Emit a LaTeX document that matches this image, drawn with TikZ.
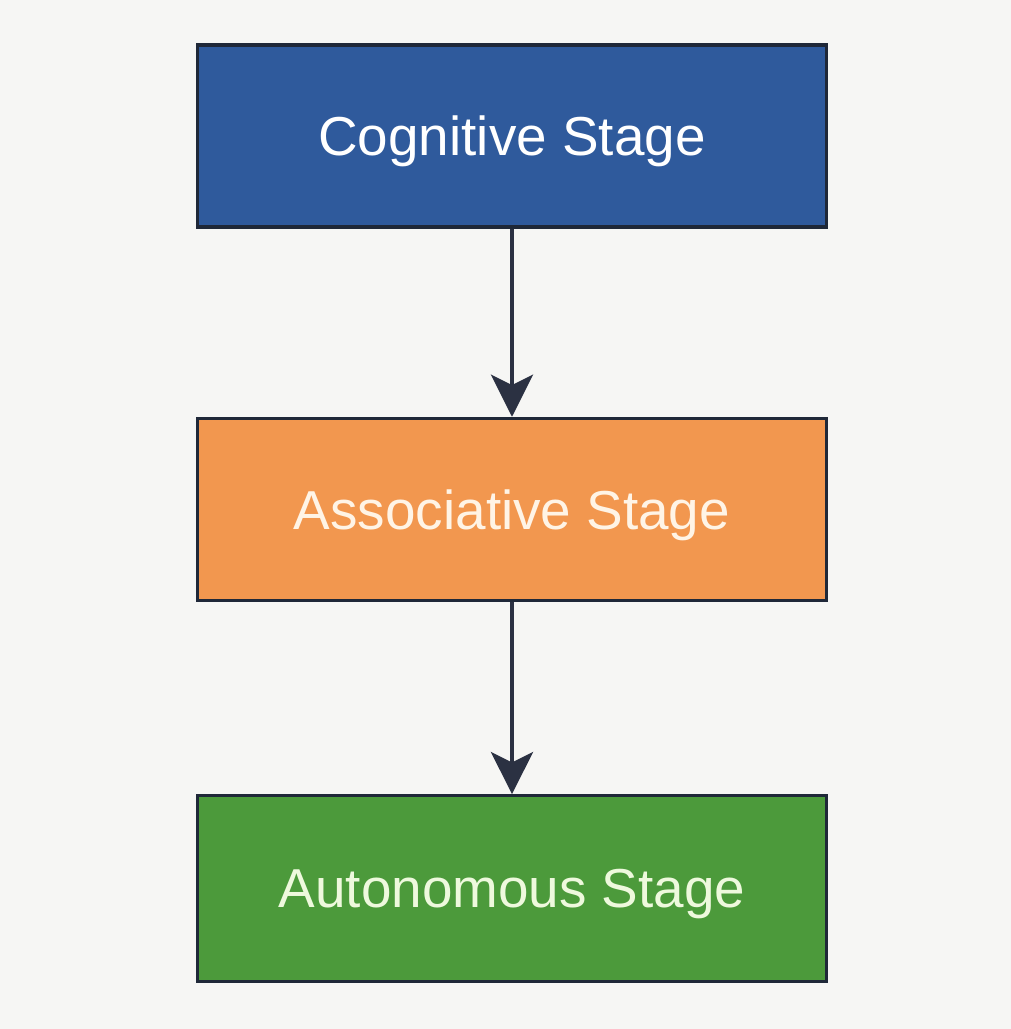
\documentclass[tikz,border=0pt]{standalone}
\usepackage{fontspec}
\setmainfont{Liberation Sans}
\definecolor{StageBlue}{HTML}{2F5A9C}
\definecolor{StageOrange}{HTML}{F2974F}
\definecolor{StageGreen}{HTML}{4C9A3B}
\definecolor{EdgeNavy}{HTML}{1F2838}
\definecolor{ArrowSlate}{HTML}{2B3142}
\definecolor{PaperGray}{HTML}{F6F6F4}
\definecolor{CreamText}{HTML}{FFF4E6}
\definecolor{MintText}{HTML}{EEF9DD}
\usetikzlibrary{
  arrows.meta,
  positioning
}

\begin{document}
\begin{tikzpicture}[
  x=0.01cm, y=-0.01cm,
  node distance=1.88cm,
  stagebox/.style={
    rectangle, draw=EdgeNavy, line width=0.9pt,
    minimum width=6.28cm, minimum height=1.82cm,
    inner sep=0pt, text depth=0pt,
    font=\fontsize{15.6}{18}\selectfont
  },
  flow/.style={
    -{Stealth[length=12pt, width=12pt, inset=3pt]},
    line width=0.9pt, ArrowSlate
  }
]
  \useasboundingbox[fill=PaperGray] (0,0) rectangle (1011,1029);

  % Stages (top to bottom)
  \node[stagebox, fill=StageBlue, text=white] (cog) at (512,136)
    {Cognitive Stage};
  \node[stagebox, fill=StageOrange, text=CreamText, below=of cog] (assoc)
    {Associative Stage};
  \node[stagebox, fill=StageGreen, text=MintText, below=1.92cm of assoc,
    minimum height=1.86cm] (auto)
    {Autonomous Stage};

  % Connections
  \draw[flow] (cog) -- (assoc);
  \draw[flow] (assoc) -- (auto);
\end{tikzpicture}
\end{document}
